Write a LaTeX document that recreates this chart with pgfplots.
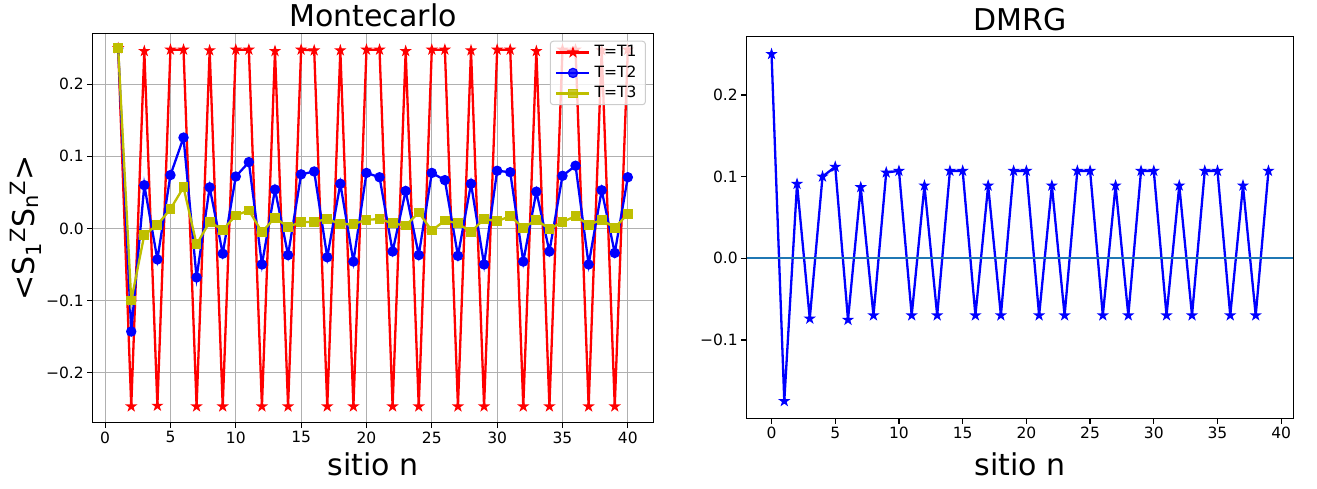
\documentclass[border=0pt]{standalone}
\usepackage{pgfplots}
\pgfplotsset{compat=1.18}
\usepackage{fontspec}
\setmainfont{DejaVu Sans}

\definecolor{mplyellow}{rgb}{0.75,0.75,0}
\definecolor{mplC0}{HTML}{1F77B4}
\definecolor{gridgray}{HTML}{B0B0B0}

\pgfdeclareplotmark{fstar}{%
  \pgfpathmoveto{\pgfpointpolar{90}{\pgfplotmarksize}}%
  \pgfpathlineto{\pgfpointpolar{126}{0.382\pgfplotmarksize}}%
  \pgfpathlineto{\pgfpointpolar{162}{\pgfplotmarksize}}%
  \pgfpathlineto{\pgfpointpolar{198}{0.382\pgfplotmarksize}}%
  \pgfpathlineto{\pgfpointpolar{234}{\pgfplotmarksize}}%
  \pgfpathlineto{\pgfpointpolar{270}{0.382\pgfplotmarksize}}%
  \pgfpathlineto{\pgfpointpolar{306}{\pgfplotmarksize}}%
  \pgfpathlineto{\pgfpointpolar{342}{0.382\pgfplotmarksize}}%
  \pgfpathlineto{\pgfpointpolar{18}{\pgfplotmarksize}}%
  \pgfpathlineto{\pgfpointpolar{54}{0.382\pgfplotmarksize}}%
  \pgfpathclose
  \pgfusepathqfillstroke
}

\pgfplotstableread{
x y
1 0.25
2 -0.247
3 0.246
4 -0.246
5 0.248
6 0.248
7 -0.247
8 0.247
9 -0.247
10 0.248
11 0.248
12 -0.247
13 0.246
14 -0.247
15 0.248
16 0.247
17 -0.247
18 0.247
19 -0.247
20 0.248
21 0.248
22 -0.247
23 0.246
24 -0.247
25 0.248
26 0.248
27 -0.247
28 0.247
29 -0.247
30 0.248
31 0.248
32 -0.247
33 0.246
34 -0.247
35 0.248
36 0.248
37 -0.247
38 0.247
39 -0.247
40 0.248
}\tone

\pgfplotstableread{
x y
1 0.25
2 -0.143
3 0.060
4 -0.043
5 0.074
6 0.126
7 -0.068
8 0.057
9 -0.035
10 0.072
11 0.092
12 -0.050
13 0.054
14 -0.037
15 0.075
16 0.079
17 -0.040
18 0.062
19 -0.046
20 0.077
21 0.071
22 -0.032
23 0.052
24 -0.037
25 0.077
26 0.067
27 -0.038
28 0.062
29 -0.050
30 0.080
31 0.078
32 -0.046
33 0.051
34 -0.032
35 0.073
36 0.087
37 -0.050
38 0.053
39 -0.034
40 0.071
}\ttwo

\pgfplotstableread{
x y
1 0.25
2 -0.100
3 -0.009
4 0.005
5 0.027
6 0.057
7 -0.022
8 0.009
9 -0.002
10 0.018
11 0.025
12 -0.005
13 0.015
14 0.002
15 0.009
16 0.009
17 0.013
18 0.006
19 0.006
20 0.012
21 0.013
22 0.007
23 0.004
24 0.022
25 -0.003
26 0.011
27 0.007
28 -0.005
29 0.013
30 0.010
31 0.017
32 0.001
33 0.012
34 -0.001
35 0.009
36 0.017
37 0.005
38 0.012
39 0.001
40 0.020
}\tthree

\pgfplotstableread{
x y
0 0.250
1 -0.175
2 0.091
3 -0.074
4 0.100
5 0.112
6 -0.0755
7 0.087
8 -0.070
9 0.105
10 0.107
11 -0.070
12 0.089
13 -0.070
14 0.107
15 0.107
16 -0.070
17 0.089
18 -0.070
19 0.107
20 0.107
21 -0.070
22 0.089
23 -0.070
24 0.107
25 0.107
26 -0.070
27 0.089
28 -0.070
29 0.107
30 0.107
31 -0.070
32 0.089
33 -0.070
34 0.107
35 0.107
36 -0.070
37 0.089
38 -0.070
39 0.107
}\dmrg

\pgfplotsset{
  mplbase/.style={
    scale only axis,
    axis line style={line width=1.2pt, black},
    tick style={line width=1.2pt, black},
    major tick length=5.4pt,
    tick align=outside,
    tick pos=left,
    ticklabel style={font=\fontsize{15.5}{18}\selectfont},
    every axis title/.style={at={(axis description cs:0.5,1)}, anchor=base, yshift=6.5pt, font=\fontsize{30}{34}\selectfont},
    every axis x label/.style={at={(axis description cs:0.5,0)}, anchor=base, font=\fontsize{30}{34}\selectfont},
    every axis y label/.style={at={(axis description cs:0,0.5)}, xshift=-57.7pt, rotate=90, anchor=base, font=\fontsize{30}{34}\selectfont},
    xtick={0,5,...,40},
    xticklabels={0,5,10,15,20,25,30,35,40},
  }
}

\begin{document}
\begin{tikzpicture}
\useasboundingbox (0,0) rectangle (1317pt,489pt);

\begin{axis}[
  mplbase,
  at={(92.7pt,66.3pt)}, anchor=south west,
  width=560.6pt, height=389.4pt,
  xmin=-0.95, xmax=41.95,
  ymin=-0.2695, ymax=0.2707,
  ytick={-0.2,-0.1,0,0.1,0.2},
  yticklabels={−0.2,−0.1,0.0,0.1,0.2},
  grid=major,
  grid style={gridgray, line width=1.2pt},
  title={Montecarlo},
  xlabel={sitio n},
  xlabel style={yshift=-52.5pt},
  ylabel={<S\textsubscript{1}\textsuperscript{Z}S\textsubscript{n}\textsuperscript{Z}>},
  legend style={at={(axis description cs:1,1)}, anchor=north east, xshift=-7.4pt, yshift=-7.4pt,
    font=\fontsize{15.5}{18}\selectfont, draw=black!20, fill=white, fill opacity=0.8, text opacity=1,
    rounded corners=3pt, inner xsep=5pt, inner ysep=1pt, line width=1pt,
    nodes={text height=11.5pt, text depth=3pt, inner ysep=3pt, inner xsep=4pt}},
  legend cell align=left,
  legend image code/.code={\draw[mark repeat=2,mark phase=2,#1] plot coordinates {(0pt,0pt) (16.5pt,0pt) (33pt,0pt)};},
]
\addplot[red, line width=2.3pt, mark=fstar, mark size=4.5pt, mark options={solid, line width=1.2pt}] table[x=x,y=y]{\tone};
\addlegendentry{T=T1}
\addplot[blue, line width=2.3pt, mark=*, mark size=4.6pt, mark options={solid, line width=1.2pt}] table[x=x,y=y]{\ttwo};
\addlegendentry{T=T2}
\addplot[mplyellow, line width=2.3pt, mark=square*, mark size=4.3pt, mark options={solid, line width=1.2pt}] table[x=x,y=y]{\tthree};
\addlegendentry{T=T3}
\end{axis}

\begin{axis}[
  mplbase,
  at={(746.7pt,70.7pt)}, anchor=south west,
  width=546.6pt, height=381.6pt,
  xmin=-1.95, xmax=40.95,
  ymin=-0.196, ymax=0.2713,
  ytick={-0.1,0,0.1,0.2},
  yticklabels={−0.1,0.0,0.1,0.2},
  title={DMRG},
  xlabel={sitio n},
  xlabel style={yshift=-57.7pt},
]
\addplot[blue, line width=2.3pt, mark=fstar, mark size=4.5pt, mark options={solid, line width=1.2pt}] table[x=x,y=y]{\dmrg};
\addplot[mplC0, line width=2.3pt] coordinates {(-1.95,0) (40.95,0)};
\end{axis}
\end{tikzpicture}
\end{document}
